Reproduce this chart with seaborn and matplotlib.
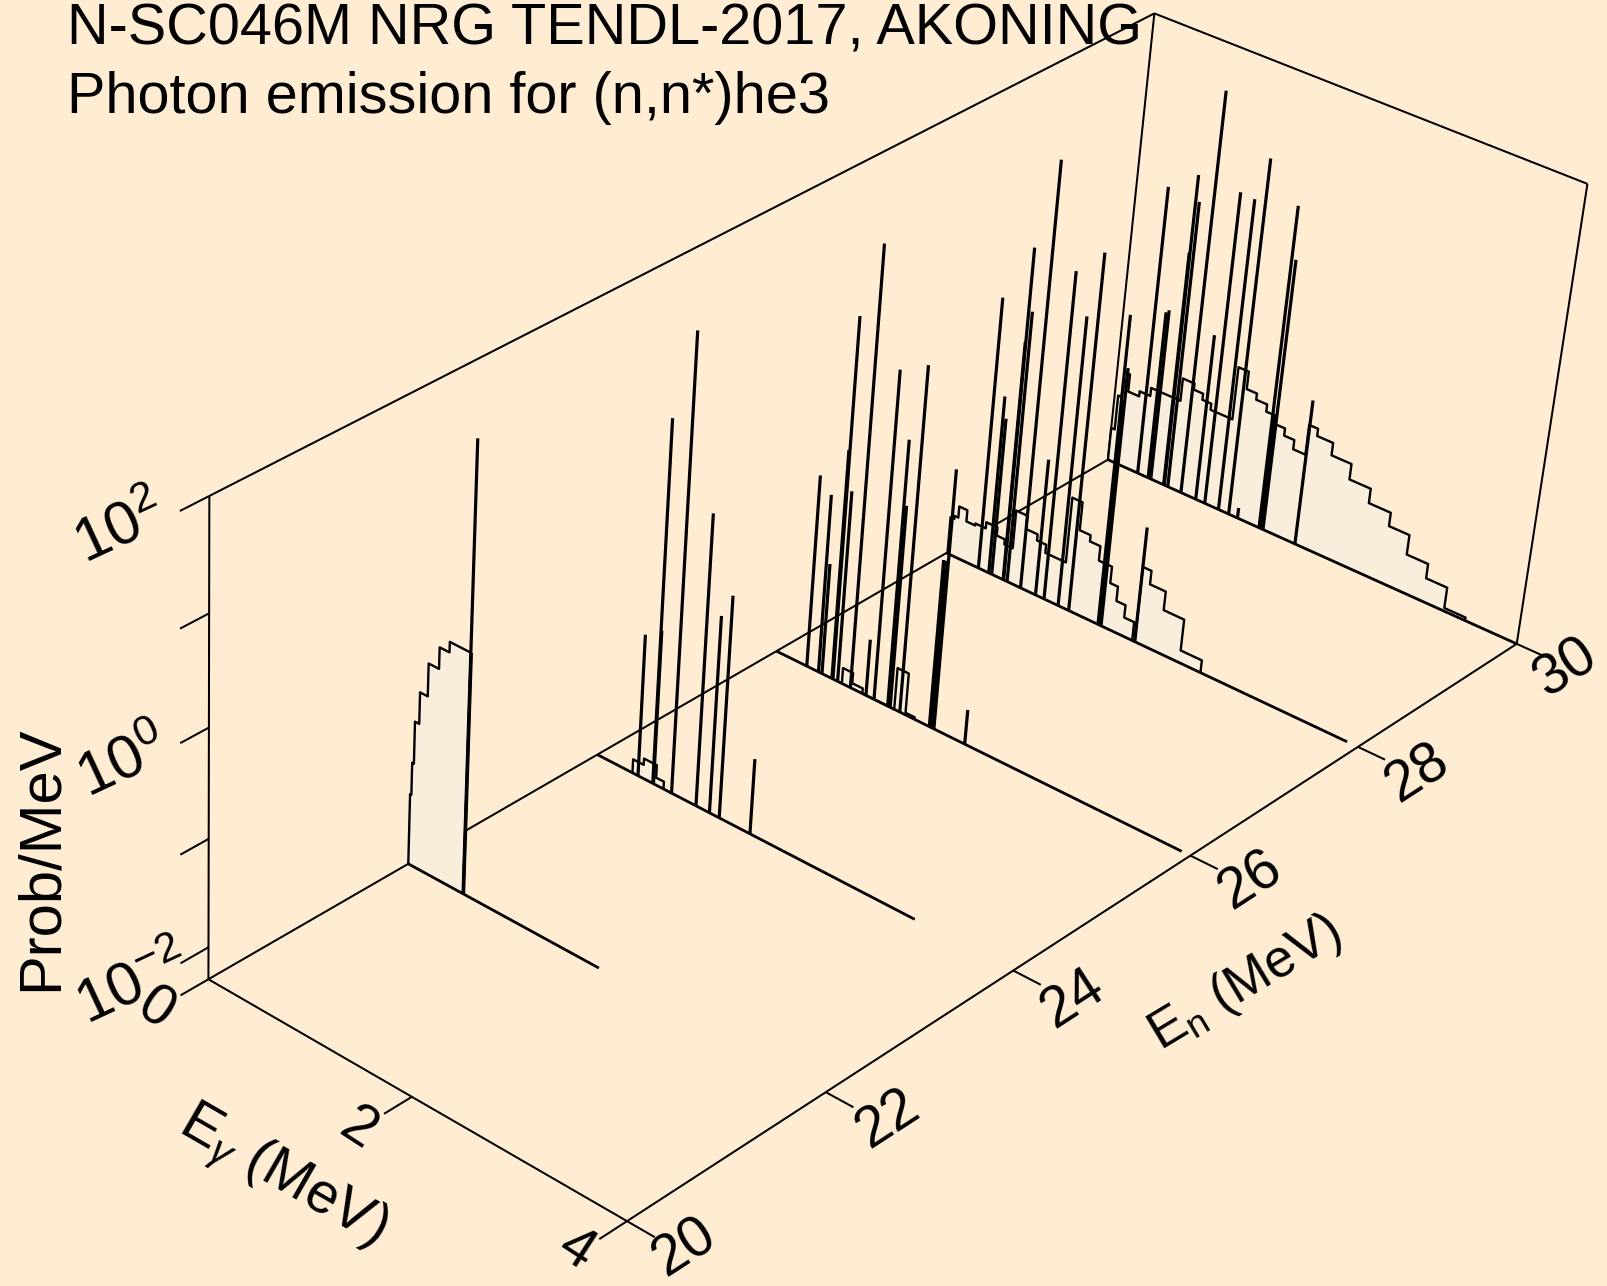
import numpy as np
import pandas as pd
import seaborn as sns
import matplotlib.pyplot as plt

# axis ranges, z is log10(Prob/MeV)
EG_MIN, EG_MAX = 0.0, 4.0
EN_MIN, EN_MAX = 20.0, 30.0
Z_MIN, Z_MAX = -2.3, 2.0

EG_TICKS = [0, 2, 4]
EN_TICKS = [20, 22, 24, 26, 28, 30]
Z_TICKS = [-2, -1, 0, 1, 2]

# one entry per incident energy, drawn back to front
EN_LEVELS = [30, 28, 26, 24, 22]
BASE_END = {30: 4.0, 28: 3.9, 26: 3.92, 24: 3.09, 22: 1.88}

# continuum histograms: bin edges (MeV) and log10 heights
edges_22 = [0, .013, .03, .072, .148, .25, .346, .55]
vals_22 = [-1.64, -1.34, -.95, -.66, -.36, -.165, -.07]
edges_24 = [.354, .46, .588, .665]
vals_24 = [-2.17, -2.11, -2.23]
edges_26 = [.66, .76, .864, 1.18, 1.29, 1.38]
vals_26 = [-2.15, -2.25, -2.3, -1.9, -2.28]
edges_28 = [.01, .048, .086, .168, .257, .362, .474, .555, .639, .75, .864, .955, 1.158,
            1.258, 1.364, 1.466, 1.594, 1.669, 1.758, 1.855, 1.88, 1.963, 2.115, 2.312, 2.516]
vals_28 = [-1.94, -1.91, -1.8, -1.91, -1.89, -1.83, -1.91, -1.96, -1.59, -1.72, -1.78, -1.86,
           -1.23, -1.5, -1.56, -1.7, -1.86, -2.0, -2.12, -2.3, -1.57, -1.7, -1.88, -2.18]
edges_30 = [0, .035, .07, .101, .128, .239, .346, .64, .756, .848, .936, 1.152, 1.253, 1.353,
            1.46, 1.557, 1.653, 1.752, 1.871, 1.957, 2.111, 2.303, 2.507, 2.717, 2.912, 3.115,
            3.315, 3.516]
vals_30 = [-1.98, -1.64, -1.53, -1.39, -1.56, -1.51, -1.43, -1.21, -1.27, -1.33, -1.39, -.88,
           -1.05, -1.11, -1.18, -1.26, -1.33, -1.42, -1.13, -1.2, -1.32, -1.47, -1.61, -1.74,
           -1.93, -2.07, -2.27]

# discrete gamma lines: energy (MeV) and log10 height
lines_e_22 = [.55, .555]
lines_z_22 = [1.81, -.07]
lines_e_24 = [.41, .558, .565, .745, .987, 1.12, 1.216, 1.517]
lines_z_24 = [-.96, 1.08, -.85, 1.93, .42, -.45, -.22, -1.59]
lines_e_26 = [.307, .425, .46, .56, .57, .617, .745, .90, .98, 1.115, 1.14, 1.235, 1.525, 1.54,
              1.555, 1.57, 1.87]
lines_z_26 = [-.47, -.6, -1.24, -.12, 1.11, -.48, 1.83, -1.76, .8, .22, -.38, .95, -.71, -.71,
              -.71, .15, -1.97]
lines_e_28 = [.325, .43, .46, .575, .58, .615, .75, .9, .985, 1.125, 1.23, 1.52, 1.54, 1.55,
              1.88]
lines_z_28 = [.31, -.58, -.78, 0, .88, .3, 1.75, -.98, .83, .47, 1.1, .65, -.15, .17, -1.19]
lines_e_30 = [.304, .411, .438, .568, .575, .61, .743, .892, .983, 1.12, 1.222, 1.31, 1.524,
              1.54, 1.563, 1.878]
lines_z_30 = [.5, -.66, -.63, -.02, .72, .48, 1.57, -.68, .72, .71, 1.13, -2.2, .81, -1.17, .32,
              -.89]

CONT = {22: (edges_22, vals_22), 24: (edges_24, vals_24), 26: (edges_26, vals_26),
        28: (edges_28, vals_28), 30: (edges_30, vals_30)}
LINES = {22: (lines_e_22, lines_z_22), 24: (lines_e_24, lines_z_24), 26: (lines_e_26, lines_z_26),
         28: (lines_e_28, lines_z_28), 30: (lines_e_30, lines_z_30)}

BG = "#FFEDD3"
FILL = "#F9EDDC"

# camera: known box points (Eg, En, z) and where they land on the page
CAM_WORLD = np.array([
    [0, 20, -2.3], [0, 20, 2], [4, 20, -2.3], [0, 30, -2.3], [0, 30, 2], [4, 30, -2.3], [4, 30, 2],
    [2, 20, -2.3], [4, 22, -2.3], [4, 24, -2.3], [4, 26, -2.3], [4, 28, -2.3],
    [0, 20, 0], [0, 20, -2], [0, 22, -2.3], [0, 24, -2.3], [0, 26, -2.3], [0, 28, -2.3]], float)
CAM_PAGE = np.array([
    [209, 979], [209, 496], [627, 1221], [1108, 460], [1155, 13], [1517, 643], [1587, 184.5],
    [411, 1097], [825, 1091.5], [1015, 972], [1190, 855], [1358, 747],
    [209, 727], [209, 948], [408, 863], [597.5, 755.5], [777, 651], [945, 553]], float)


def norm_world(p):
    p = np.atleast_2d(p).astype(float)
    return np.c_[p[:, 0] / 4, (p[:, 1] - 20) / 10, (p[:, 2] + 2.3) / 4.3, np.ones(len(p))]


def fit_camera():
    rows = []
    for w, (x, y) in zip(norm_world(CAM_WORLD), CAM_PAGE / 1000):
        rows.append(np.r_[w, np.zeros(4), -x * w])
        rows.append(np.r_[np.zeros(4), w, -y * w])
    return np.linalg.svd(np.array(rows))[2][-1].reshape(3, 4)


CAM = fit_camera()


def project(eg, en, z):
    eg, en, z = np.broadcast_arrays(eg, en, z)
    h = norm_world(np.c_[eg, en, z]) @ CAM.T
    return h[:, 0] / h[:, 2] * 1000, h[:, 1] / h[:, 2] * 1000


def draw(ax, eg, en, z, lw, zorder):
    px, py = project(eg, en, z)
    df = pd.DataFrame({"px": px, "py": py, "seg": 0})
    sns.lineplot(data=df, x="px", y="py", units="seg", estimator=None, sort=False, ax=ax,
                 color="black", lw=lw, zorder=zorder, legend=False, solid_capstyle="butt")


sns.set_theme(style="white")
plt.rcParams["font.family"] = ["Liberation Sans"]
plt.rcParams["text.color"] = "black"
plt.rcParams["mathtext.fontset"] = "custom"
plt.rcParams["mathtext.rm"] = "Liberation Sans"
plt.rcParams["mathtext.it"] = "Liberation Sans:italic"

fig = plt.figure(figsize=(16.07, 12.86), dpi=100, facecolor=BG)
ax = fig.add_axes([0, 0, 1, 1])

# box frame
frame_lw = 1.45
draw(ax, [0, 0], 20, [Z_MIN, Z_MAX], frame_lw, 1)
draw(ax, [0, 0], [20, 30], Z_MAX, frame_lw, 1)
draw(ax, [0, 4], 30, Z_MAX, frame_lw, 1)
draw(ax, [4, 4], 30, [Z_MIN, Z_MAX], frame_lw, 1)
draw(ax, [0, 0], 30, [Z_MIN, Z_MAX], frame_lw, 1)
draw(ax, [0, 0], [20, 30], Z_MIN, frame_lw, 1)
draw(ax, [0, 4], 20, Z_MIN, frame_lw, 1)
draw(ax, [4, 4], [20, 30], Z_MIN, frame_lw, 1)

# ticks
for t in Z_TICKS:
    draw(ax, [0, 0], [20, 19.73], t, frame_lw, 1)
for t in EG_TICKS:
    draw(ax, [t, t], [20, 19.73], Z_MIN, frame_lw, 1)
for t in EN_TICKS:
    draw(ax, [4, 4.25], t, Z_MIN, frame_lw, 1)

# traces, far one first so near ones paint over it
order = 10
for en in EN_LEVELS:
    edges, vals = CONT[en]
    sx = np.repeat(edges, 2)
    sz = np.r_[Z_MIN, np.repeat(vals, 2), Z_MIN]
    fx, fy = project(sx, en, sz)
    ax.fill(fx, fy, color=FILL, lw=0, zorder=order)
    draw(ax, sx, en, sz, 1.7, order + 1)
    draw(ax, [EG_MIN, BASE_END[en]], en, Z_MIN, 2.0, order + 2)
    le, lz = LINES[en]
    for e, z in zip(le, lz):
        draw(ax, [e, e], en, [Z_MIN, z], 2.3, order + 2)
    order += 5

ax.set_xlim(0, 1607)
ax.set_ylim(1286, 0)
ax.set_axis_off()

# texts
ax.text(67, 44, "N-SC046M NRG TENDL-2017, AKONING", fontsize=41.5, ha="left", va="baseline", zorder=2)
ax.text(67, 113, "Photon emission for (n,n*)he3", fontsize=41.5, ha="left", va="baseline", zorder=2)

for s, x, y in [(r"$\mathit{10^{2}}$", 120, 530), (r"$\mathit{10^{0}}$", 123, 764), (r"$\mathit{10^{-2}}$", 133, 986)]:
    ax.text(x, y, s, fontsize=44, rotation=25, ha="center", va="center", rotation_mode="anchor")
for s, x, y in [("0", 156, 1010), ("2", 358, 1129), ("4", 576, 1250)]:
    ax.text(x, y, s, fontsize=41, rotation=-33, ha="center", va="center", rotation_mode="anchor")
for s, x, y in [("20", 684, 1248), ("22", 888, 1119), ("24", 1073, 999), ("26", 1250, 881),
                ("28", 1417, 774), ("30", 1566, 668)]:
    ax.text(x, y, s, fontsize=41, rotation=33, ha="center", va="center", rotation_mode="anchor")

ax.text(41, 858, "Prob/MeV", fontsize=43, rotation=90, ha="center", va="center", rotation_mode="anchor")
ax.text(282, 1177, r"E$_{\gamma}$ (MeV)", fontsize=41, rotation=-30, ha="center", va="center", rotation_mode="anchor")
ax.text(1245, 984, r"E$_{\mathrm{n}}$ (MeV)", fontsize=38, rotation=31, ha="center", va="center", rotation_mode="anchor")

fig.savefig("out.png", dpi=100, facecolor=BG)
